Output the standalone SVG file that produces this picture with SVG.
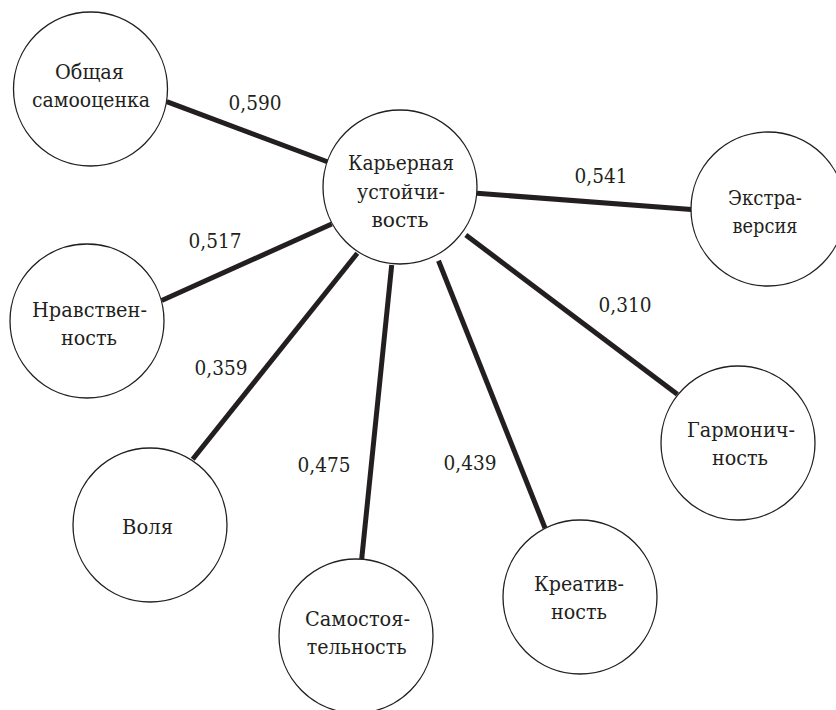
<svg xmlns="http://www.w3.org/2000/svg" width="836" height="710" viewBox="0 0 836 710">
  <style>
    .node circle { fill: #ffffff; stroke: #231f20; stroke-width: 1.3; }
    .link { stroke: #231f20; stroke-width: 5; stroke-linecap: butt; fill: none; }
    text { font-family: "DejaVu Serif", serif; font-size: 21px; fill: #231f20; text-anchor: middle; }
  </style>
  <rect width="836" height="710" fill="#ffffff"/>

  <!-- weighted links to the central factor -->
  <g id="connectors">
    <line class="link" x1="166.7" y1="101.7" x2="328" y2="162"/>
    <line class="link" x1="161.7" y1="300.5" x2="331.7" y2="224"/>
    <line class="link" x1="192.7" y1="459.3" x2="357.3" y2="253.3"/>
    <line class="link" x1="361.7" y1="559" x2="391.7" y2="265"/>
    <line class="link" x1="545" y1="528" x2="438.5" y2="260.7"/>
    <line class="link" x1="677.3" y1="394.3" x2="465.8" y2="235"/>
    <line class="link" x1="691.5" y1="209.4" x2="477" y2="193.3"/>
    <text x="255" y="110" textLength="53" lengthAdjust="spacingAndGlyphs">0,590</text>
    <text x="215" y="248" textLength="53" lengthAdjust="spacingAndGlyphs">0,517</text>
    <text x="221" y="375" textLength="53" lengthAdjust="spacingAndGlyphs">0,359</text>
    <text x="324" y="472" textLength="53" lengthAdjust="spacingAndGlyphs">0,475</text>
    <text x="470" y="470" textLength="53" lengthAdjust="spacingAndGlyphs">0,439</text>
    <text x="625" y="312" textLength="53" lengthAdjust="spacingAndGlyphs">0,310</text>
    <text x="601" y="183" textLength="53" lengthAdjust="spacingAndGlyphs">0,541</text>
  </g>

  <g id="node-center" class="node">
    <circle cx="400" cy="187" r="77"/>
    <text x="401" y="170" textLength="106" lengthAdjust="spacingAndGlyphs">Карьерная</text>
    <text x="401" y="199" textLength="88" lengthAdjust="spacingAndGlyphs">устойчи-</text>
    <text x="400" y="227" textLength="57" lengthAdjust="spacingAndGlyphs">вость</text>
  </g>

  <g id="node-self-esteem" class="node">
    <circle cx="90.5" cy="89" r="77"/>
    <text x="89.5" y="79" textLength="69" lengthAdjust="spacingAndGlyphs">Общая</text>
    <text x="91" y="107" textLength="118" lengthAdjust="spacingAndGlyphs">самооценка</text>
  </g>

  <g id="node-morality" class="node">
    <circle cx="87" cy="321" r="77"/>
    <text x="89.5" y="317" textLength="115" lengthAdjust="spacingAndGlyphs">Нравствен-</text>
    <text x="89" y="345" textLength="56" lengthAdjust="spacingAndGlyphs">ность</text>
  </g>

  <g id="node-will" class="node">
    <circle cx="150" cy="525" r="77"/>
    <text x="147.5" y="534" textLength="51" lengthAdjust="spacingAndGlyphs">Воля</text>
  </g>

  <g id="node-autonomy" class="node">
    <circle cx="356" cy="636" r="77"/>
    <text x="357.5" y="626" textLength="105" lengthAdjust="spacingAndGlyphs">Самостоя-</text>
    <text x="356.7" y="654" textLength="100" lengthAdjust="spacingAndGlyphs">тельность</text>
  </g>

  <g id="node-creativity" class="node">
    <circle cx="580" cy="597" r="77"/>
    <text x="579" y="591" textLength="90" lengthAdjust="spacingAndGlyphs">Креатив-</text>
    <text x="579" y="619" textLength="56" lengthAdjust="spacingAndGlyphs">ность</text>
  </g>

  <g id="node-harmony" class="node">
    <circle cx="738" cy="443" r="77"/>
    <text x="741" y="437" textLength="108" lengthAdjust="spacingAndGlyphs">Гармонич-</text>
    <text x="740" y="465" textLength="56" lengthAdjust="spacingAndGlyphs">ность</text>
  </g>

  <g id="node-extraversion" class="node">
    <circle cx="768" cy="209" r="77"/>
    <text x="765" y="205" textLength="74" lengthAdjust="spacingAndGlyphs">Экстра-</text>
    <text x="765" y="233" textLength="65" lengthAdjust="spacingAndGlyphs">версия</text>
  </g>
</svg>
